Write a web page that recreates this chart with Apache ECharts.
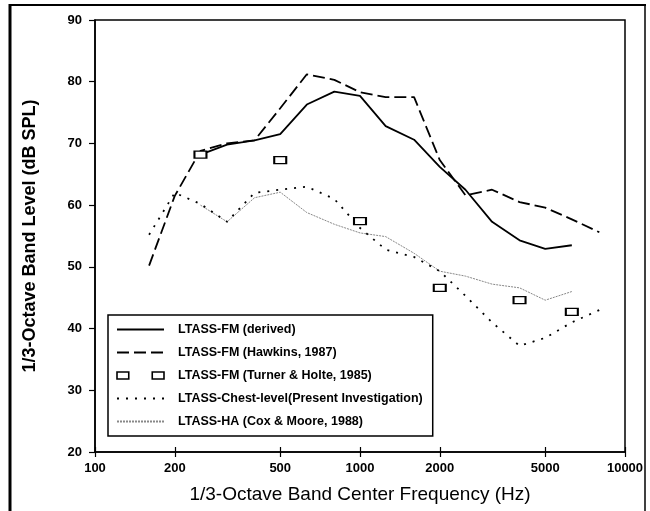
<!DOCTYPE html>
<html>
<head>
<meta charset="utf-8">
<script src="https://cdn.jsdelivr.net/npm/echarts@6.0.0/dist/echarts.min.js"></script>
<style>
  html, body { margin: 0; padding: 0; background: #fff; }
  #chart { width: 650px; height: 511px; }
</style>
</head>
<body>
<div id="chart"></div>
<script>
// 1/3-octave band centre frequencies (Hz)
const freqs = [160, 200, 250, 315, 400, 500, 630, 800, 1000, 1250, 1600, 2000, 2500, 3150, 4000, 5000, 6300, 8000]

// band levels, dB SPL (null = no point)
const derived = [null, null, 68.2, 69.8, 70.5, 71.5, 76.3, 78.4, 77.7, 72.8, 70.6, 66.2, 62.5, 57.3, 54.3, 52.9, 53.5, null]
const hawkins = [50.2, 61.5, 68.8, 70.0, 70.5, 75.7, 81.2, 80.3, 78.3, 77.5, 77.5, 67.3, 61.6, 62.5, 60.5, 59.6, 57.7, 55.6]
const chest = [55.2, 62.0, 60.2, 57.3, 62.0, 62.5, 63.0, 61.0, 56.3, 52.8, 51.6, 49.3, 45.3, 41.0, 37.2, 38.5, 41.0, 43.0]
const coxMoore = [null, null, 60.0, 57.3, 61.2, 62.1, 58.8, 56.9, 55.5, 54.9, 52.2, 49.3, 48.5, 47.2, 46.6, 44.6, 46.0, null]

const turnerFreqs = [250, 500, 1000, 2000, 4000, 6300]
const turner = [68.2, 67.3, 57.4, 46.6, 44.6, 42.7]

const xTicks = [100, 200, 500, 1000, 2000, 5000, 10000]

const names = [
    'LTASS-FM (derived)',
    'LTASS-FM (Hawkins, 1987)',
    'LTASS-FM (Turner & Holte, 1985)',
    'LTASS-Chest-level(Present Investigation)',
    'LTASS-HA (Cox & Moore, 1988)'
]

const pairs = (xs, ys) => xs.map((f, i) => [f, ys[i]]).filter(p => p[1] != null)

const font = '"Liberation Sans", Arial, Helvetica, sans-serif'
const boxStyle = { color: '#fff', borderColor: '#000', borderWidth: 1.6, opacity: 1 }

var myChart = echarts.init(document.getElementById('chart'))
var option = {
    backgroundColor: '#fff',
    animation: false,
    textStyle: { fontFamily: font, color: '#000' },
    grid: {
        left: 95, right: 25, top: 20, bottom: 59,
        show: true, borderColor: '#000', borderWidth: 1.5
    },
    legend: {
        orient: 'vertical',
        left: 108, top: 315,
        width: 324,
        padding: [8, 10, 8, 8],
        borderColor: '#000', borderWidth: 1.5,
        backgroundColor: '#fff',
        itemWidth: 47, itemHeight: 12, itemGap: 10,
        selectedMode: false,
        itemStyle: { opacity: 0 },
        textStyle: { fontFamily: font, fontWeight: 'bold', fontSize: 12.5, color: '#000', padding: [0, 0, 0, 9] },
        data: [
            { name: names[0] },
            { name: names[1] },
            { name: names[2], icon: 'path://M0,0h12v7h-12z M36,0h12v7h-12z', itemStyle: boxStyle },
            { name: names[3] },
            { name: names[4] }
        ]
    },
    xAxis: [
        {
            type: 'log', logBase: 10, min: 100, max: 10000,
            name: '1/3-Octave Band Center Frequency (Hz)',
            nameLocation: 'middle', nameGap: 33,
            nameTextStyle: { fontFamily: font, fontSize: 19, color: '#000' },
            axisLine: { lineStyle: { color: '#000', width: 1.5 } },
            axisTick: { length: 5, lineStyle: { color: '#000', width: 1.2 }, customValues: xTicks },
            axisLabel: {
                customValues: xTicks, margin: 10,
                formatter: v => String(Math.round(v)),
                fontFamily: font, fontWeight: 'bold', fontSize: 13, color: '#000'
            },
            splitLine: { show: false }, minorTick: { show: false }
        },
        {
            type: 'log', logBase: 10, min: 100, max: 10000, position: 'bottom',
            axisLine: { show: false },
            axisTick: { inside: true, length: 5, lineStyle: { color: '#000', width: 1.2 }, customValues: xTicks },
            axisLabel: { show: false },
            splitLine: { show: false }
        }
    ],
    yAxis: {
        type: 'value', min: 20, max: 90, interval: 10,
        name: '1/3-Octave Band Level (dB SPL)',
        nameLocation: 'middle', nameGap: 56,
        nameTextStyle: { fontFamily: font, fontSize: 18, fontWeight: 'bold', color: '#000' },
        axisLine: { show: true, lineStyle: { color: '#000', width: 1.5 } },
        axisTick: { show: true, length: 6, lineStyle: { color: '#000', width: 1.2 } },
        axisLabel: { margin: 13, fontFamily: font, fontWeight: 'bold', fontSize: 13, color: '#000' },
        splitLine: { show: false }
    },
    series: [
        {
            name: names[0], type: 'line', symbol: 'none',
            data: pairs(freqs, derived),
            lineStyle: { color: '#000', width: 1.8 }, itemStyle: { color: '#000' }, z: 5
        },
        {
            name: names[1], type: 'line', symbol: 'none',
            data: pairs(freqs, hawkins),
            lineStyle: { color: '#000', width: 1.8, type: [12, 5] }, itemStyle: { color: '#000' }, z: 4
        },
        {
            name: names[2], type: 'scatter', symbol: 'rect', symbolSize: [12, 7],
            data: pairs(turnerFreqs, turner),
            itemStyle: boxStyle, z: 6
        },
        {
            name: names[3], type: 'line', symbol: 'none',
            data: pairs(freqs, chest),
            lineStyle: { color: '#000', width: 1.8, type: [2, 7] }, itemStyle: { color: '#000' }, z: 3
        },
        {
            name: names[4], type: 'line', symbol: 'none',
            data: pairs(freqs, coxMoore),
            lineStyle: { color: '#888', width: 1, type: [2, 1] }, itemStyle: { color: '#888' }, z: 2
        }
    ],
    graphic: [
        { type: 'line', shape: { x1: 10, y1: 4, x2: 10, y2: 511 }, style: { stroke: '#000', lineWidth: 3 } },
        { type: 'line', shape: { x1: 9, y1: 5, x2: 646, y2: 5 }, style: { stroke: '#000', lineWidth: 2 } },
        { type: 'line', shape: { x1: 645, y1: 5, x2: 645, y2: 511 }, style: { stroke: '#000', lineWidth: 1.5 } }
    ]
}
myChart.setOption(option)
</script>
</body>
</html>
